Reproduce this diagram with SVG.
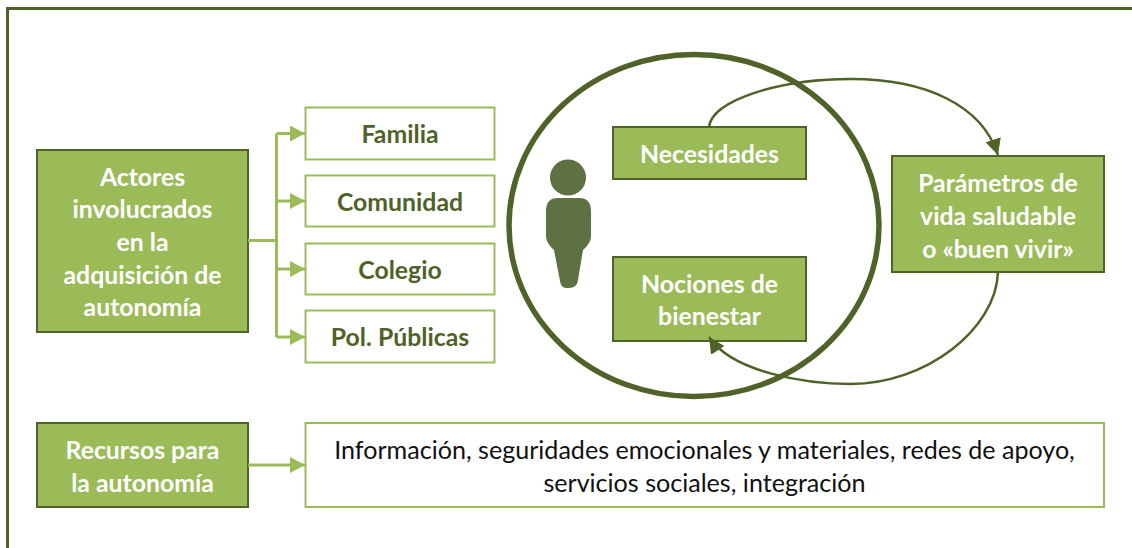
<svg xmlns="http://www.w3.org/2000/svg" width="1132" height="548" viewBox="0 0 1132 548">
<defs>
<style>
text{font-family:"Lato","Open Sans","Liberation Sans",sans-serif;text-anchor:middle}
.dark{fill:#9bbb59;stroke:#4f6228;stroke-width:2}
.light{fill:#fff;stroke:#9bbb59;stroke-width:2}
.w{fill:#fff;font-weight:700;font-size:24.800px}
.g{fill:#4f6228;font-weight:700;font-size:24.800px}
.k{fill:#111;font-size:25.100px}
.c1{fill:none;stroke:#9bbb59;stroke-width:3}
.c2{fill:none;stroke:#4f6228;stroke-width:2.500}
</style>
<marker id="la" markerUnits="userSpaceOnUse" markerWidth="16" markerHeight="16" refX="15" refY="8" orient="auto"><path d="M0 0L15 8L0 16Z" fill="#9bbb59"/></marker>
<marker id="da" markerUnits="userSpaceOnUse" markerWidth="18" markerHeight="18" refX="16" refY="8" orient="auto"><path d="M0 0L16 8L0 16Z" fill="#4f6228"/></marker>
</defs>
<path id="frame" d="M7.500 548V8.500H1132" fill="none" stroke="#4f6228" stroke-width="3"/>
<g id="circle"><ellipse cx="694" cy="225.500" rx="185" ry="171" fill="none" stroke="#4f6228" stroke-width="5.500"/></g>
<g id="person" fill="#5f7043"><circle cx="568" cy="177.500" r="18"/><path d="M558 198H579Q591 198 591 211V236Q591 243 583 250L578 280Q577 288 569 288H566Q561 288 560 281L554 250Q546 243 546 236V211Q546 198 558 198Z"/></g>
<g id="actores"><rect class="dark" x="37" y="150" width="211" height="182"/><text class="w"><tspan x="142.500" y="185.700">Actores</tspan><tspan x="142.500" y="217.700">involucrados</tspan><tspan x="142.500" y="250.700">en la</tspan><tspan x="142.500" y="283.700">adquisición de</tspan><tspan x="142.500" y="315.700">autonomía</tspan></text></g>
<g id="familia"><rect class="light" x="305.500" y="107.500" width="189" height="52"/><text class="g" x="400" y="142.700">Familia</text></g>
<g id="comunidad"><rect class="light" x="305.500" y="175.500" width="189" height="51"/><text class="g" x="400" y="210.700">Comunidad</text></g>
<g id="colegio"><rect class="light" x="305.500" y="243.500" width="189" height="51"/><text class="g" x="400" y="278.700">Colegio</text></g>
<g id="politicas"><rect class="light" x="305.500" y="310.500" width="189" height="52"/><text class="g" x="400" y="345.700">Pol. Públicas</text></g>
<g id="necesidades"><rect class="dark" x="613" y="127" width="193" height="52"/><text class="w" x="709.500" y="162.700">Necesidades</text></g>
<g id="nociones"><rect class="dark" x="613" y="257" width="193" height="84"/><text class="w"><tspan x="709.500" y="292.700">Nociones de</tspan><tspan x="709.500" y="324.700">bienestar</tspan></text></g>
<g id="parametros"><rect class="dark" x="892" y="156" width="212" height="116"/><text class="w"><tspan x="998" y="191.700">Parámetros de</tspan><tspan x="998" y="224.700">vida saludable</tspan><tspan x="998" y="257.700">o «buen vivir»</tspan></text></g>
<g id="recursos"><rect class="dark" x="37" y="423" width="211" height="84"/><text class="w"><tspan x="142.500" y="458.700">Recursos para</tspan><tspan x="142.500" y="491.700">la autonomía</tspan></text></g>
<g id="info"><rect class="light" x="305.500" y="423" width="798.500" height="84"/><text class="k"><tspan x="704.500" y="458.700">Información, seguridades emocionales y materiales, redes de apoyo,</tspan><tspan x="704.500" y="491.700">servicios sociales, integración</tspan></text></g>
<g id="connectors">
<path class="c1" d="M248 240.500H276.500M276.500 133.500V337"/>
<path class="c1" marker-end="url(#la)" d="M276.500 133.500H305"/>
<path class="c1" marker-end="url(#la)" d="M276.500 201H305"/>
<path class="c1" marker-end="url(#la)" d="M276.500 269H305"/>
<path class="c1" marker-end="url(#la)" d="M276.500 337H305"/>
<path class="c1" marker-end="url(#la)" d="M248 465H305"/>
<path class="c2" marker-end="url(#da)" d="M709 127C712 100 780 79 851 79C925 79 982 105 998 155"/>
<path class="c2" marker-end="url(#da)" d="M998 272C996 330 925 384 851 384C805 384 732 372 709 337"/>
</g>
</svg>
